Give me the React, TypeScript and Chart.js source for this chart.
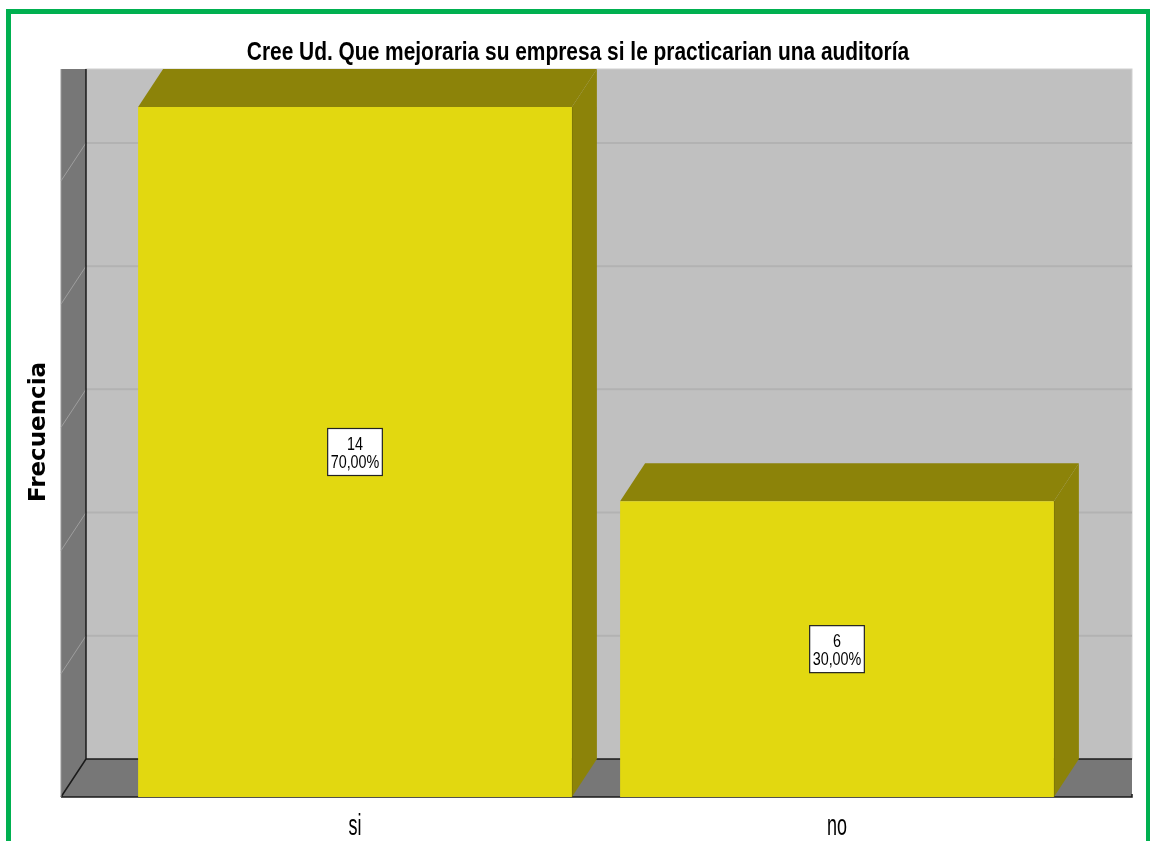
import React, { useEffect, useRef } from "react";
import { Chart, registerables } from "chart.js";

Chart.register(...registerables);

const CATEGORIES = ["si", "no"];
const FREQUENCIES = [14, 6];
const PERCENT_LABELS = ["70,00%", "30,00%"];
const TITLE = "Cree Ud. Que mejoraria su empresa si le practicarian una auditoría";
const Y_TITLE = "Frecuencia";
const Y_MAX = 14;
const Y_STEP = 2.5;

// 3D styling
const DX = 25;
const DY = -38;
const WALL_EXT_LEFT = 53;
const WALL_EXT_RIGHT = 54;
const FRONT_COLOR = "#E2D810";
const SHADE_COLOR = "#8C8309";
const BACK_WALL = "#C0C0C0";
const SIDE_WALL = "#777777";

function drawText(ctx: CanvasRenderingContext2D, text: string, x: number, y: number, font: string, sx: number, align: CanvasTextAlign) {
  ctx.save();
  ctx.translate(x, y);
  ctx.scale(sx, 1);
  ctx.font = font;
  ctx.textAlign = align;
  ctx.textBaseline = "alphabetic";
  ctx.fillStyle = "#000";
  ctx.fillText(text, 0, 0);
  ctx.restore();
}

const threeDPlugin = {
  id: "threeD",
  beforeDatasetsDraw(chart: any) {
    const { ctx, chartArea: a, scales } = chart;
    const y = scales.y;
    const top = y.getPixelForValue(Y_MAX);
    const base = y.getPixelForValue(0);
    const fL = a.left - WALL_EXT_LEFT;
    const bL = fL + DX;
    const bR = a.right + WALL_EXT_RIGHT;
    ctx.save();
    // back wall
    ctx.fillStyle = BACK_WALL;
    ctx.fillRect(bL, top + DY, bR - bL, base - top);
    ctx.strokeStyle = "#D0D0D0";
    ctx.lineWidth = 1;
    ctx.strokeRect(bL, top + DY, bR - bL, base - top);
    // left wall
    ctx.fillStyle = SIDE_WALL;
    ctx.beginPath();
    ctx.moveTo(fL, top + DY);
    ctx.lineTo(bL, top + DY);
    ctx.lineTo(bL, base + DY);
    ctx.lineTo(fL, base);
    ctx.closePath();
    ctx.fill();
    // floor
    ctx.beginPath();
    ctx.moveTo(fL, base);
    ctx.lineTo(bL, base + DY);
    ctx.lineTo(bR, base + DY);
    ctx.lineTo(bR, base);
    ctx.closePath();
    ctx.fill();
    // grid lines
    const ticks = y.ticks.map((t: any) => t.value).filter((v: number) => v > 0 && v < Y_MAX);
    for (const v of ticks) {
      const yy = y.getPixelForValue(v);
      ctx.strokeStyle = "#B2B2B2";
      ctx.lineWidth = 2;
      ctx.beginPath();
      ctx.moveTo(bL, yy + DY);
      ctx.lineTo(bR, yy + DY);
      ctx.stroke();
      ctx.strokeStyle = "#9E9E9E";
      ctx.lineWidth = 1;
      ctx.beginPath();
      ctx.moveTo(fL, yy);
      ctx.lineTo(bL, yy + DY);
      ctx.stroke();
    }
    // edges
    ctx.strokeStyle = "#1A1A1A";
    ctx.lineWidth = 1.5;
    ctx.beginPath();
    ctx.moveTo(bL, top + DY);
    ctx.lineTo(bL, base + DY);
    ctx.lineTo(bR, base + DY);
    ctx.moveTo(fL, base);
    ctx.lineTo(bL, base + DY);
    ctx.moveTo(fL, base);
    ctx.lineTo(bR, base);
    ctx.lineTo(bR, base - 3);
    ctx.stroke();
    ctx.strokeStyle = "#999";
    ctx.lineWidth = 1;
    ctx.beginPath();
    ctx.moveTo(fL, top + DY);
    ctx.lineTo(fL, base);
    ctx.stroke();
    // bar tops and sides
    const meta = chart.getDatasetMeta(0);
    meta.data.forEach((el: any) => {
      const p = el.getProps(["x", "y", "base", "width"], true);
      const L = p.x - p.width / 2;
      const R = p.x + p.width / 2;
      ctx.fillStyle = SHADE_COLOR;
      ctx.beginPath();
      ctx.moveTo(L, p.y);
      ctx.lineTo(L + DX, p.y + DY);
      ctx.lineTo(R + DX, p.y + DY);
      ctx.lineTo(R, p.y);
      ctx.closePath();
      ctx.fill();
      ctx.beginPath();
      ctx.moveTo(R, p.y);
      ctx.lineTo(R + DX, p.y + DY);
      ctx.lineTo(R + DX, p.base + DY);
      ctx.lineTo(R, p.base);
      ctx.closePath();
      ctx.fill();
      ctx.strokeStyle = "rgba(90,85,0,0.6)";
      ctx.lineWidth = 1;
      ctx.beginPath();
      ctx.moveTo(R, p.y);
      ctx.lineTo(R, p.base);
      ctx.stroke();
    });
    ctx.restore();
  },
  afterDraw(chart: any) {
    const { ctx, scales } = chart;
    const x = scales.x;
    const y = scales.y;
    const base = y.getPixelForValue(0);
    // value boxes
    const meta = chart.getDatasetMeta(0);
    meta.data.forEach((el: any, i: number) => {
      const p = el.getProps(["x", "y", "base"], true);
      const cy = (p.y + p.base) / 2;
      const font = "17.5px 'Liberation Sans', Arial, sans-serif";
      ctx.save();
      ctx.font = font;
      const w = Math.max(ctx.measureText(String(FREQUENCIES[i])).width, ctx.measureText(PERCENT_LABELS[i]).width) * 0.82 + 6;
      const h = 47;
      ctx.fillStyle = "#fff";
      ctx.fillRect(p.x - w / 2, cy - h / 2, w, h);
      ctx.strokeStyle = "#222";
      ctx.lineWidth = 1.2;
      ctx.strokeRect(p.x - w / 2, cy - h / 2, w, h);
      ctx.restore();
      drawText(ctx, String(FREQUENCIES[i]), p.x, cy - 2.5, font, 0.82, "center");
      drawText(ctx, PERCENT_LABELS[i], p.x, cy + 15.5, font, 0.82, "center");
    });
    // category labels
    CATEGORIES.forEach((c, i) => {
      drawText(ctx, c, x.getPixelForTick(i), base + 38, "29px 'Liberation Sans', Arial, sans-serif", 0.62, "center");
    });
    // title
    drawText(ctx, TITLE, chart.width / 2 + 3, 60, "bold 25.5px 'Liberation Sans', Arial, sans-serif", 0.82, "center");
    // y title
    ctx.save();
    ctx.translate(45, (y.top + base) / 2 - 20);
    ctx.rotate(-Math.PI / 2);
    ctx.font = "bold 23px 'DejaVu Sans', sans-serif";
    ctx.textAlign = "center";
    ctx.textBaseline = "alphabetic";
    ctx.fillStyle = "#000";
    ctx.fillText(Y_TITLE, 0, 0);
    ctx.restore();
  },
};

export default function App() {
  const ref = useRef<HTMLCanvasElement>(null);
  useEffect(() => {
    if (!ref.current) return;
    const chart = new Chart(ref.current, {
      type: "bar",
      data: {
        labels: CATEGORIES,
        datasets: [
          {
            data: FREQUENCIES,
            backgroundColor: FRONT_COLOR,
            borderWidth: 0,
            barPercentage: 0.9,
            categoryPercentage: 1,
          },
        ],
      },
      options: {
        responsive: false,
        animation: false,
        layout: { padding: { left: 114, right: 72, top: 107, bottom: 44 } },
        plugins: { legend: { display: false }, tooltip: { enabled: false }, title: { display: false } },
        scales: {
          x: { display: false, offset: true },
          y: { display: false, min: 0, max: Y_MAX, ticks: { stepSize: Y_STEP } },
        },
      },
      plugins: [threeDPlugin],
    });
    return () => chart.destroy();
  }, []);
  return (
    <div style={{ position: "fixed", left: 0, top: 0, width: 1150, height: 841, overflow: "hidden", background: "#fff" }}>
      <div style={{ position: "absolute", left: 6, top: 9, width: 1135, height: 900, border: "5px solid #00B050" }} />
      <canvas ref={ref} width={1150} height={841} style={{ position: "absolute", left: 0, top: 0 }} />
    </div>
  );
}
